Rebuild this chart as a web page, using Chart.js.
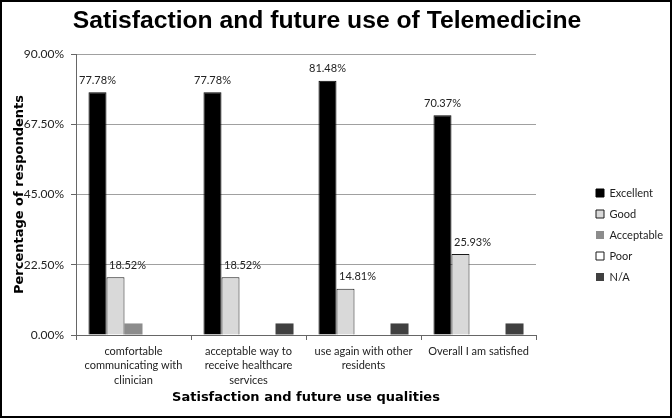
<!DOCTYPE html>
<html><head><meta charset="utf-8">
<script src="https://cdn.jsdelivr.net/npm/chart.js@4.4.1/dist/chart.umd.min.js"></script>
<style>
html,body{margin:0;padding:0;background:#fff;}
#wrap{width:672px;height:418px;box-sizing:border-box;border:2px solid #000;overflow:hidden;background:#fff;}
canvas{display:block;}
</style></head><body>
<div id="wrap"><canvas id="c" width="668" height="414"></canvas></div>
<script>
const chartTitle = 'Satisfaction and future use of Telemedicine';
const xAxisTitle = 'Satisfaction and future use qualities';
const yAxisTitle = 'Percentage of respondents';
const categories = [
  ['comfortable', 'communicating with', 'clinician'],
  ['acceptable way to', 'receive healthcare', 'services'],
  ['use again with other', 'residents'],
  ['Overall I am satisfied']
];
const seriesNames = ['Excellent', 'Good', 'Acceptable', 'Poor', 'N/A'];
const excellent = [77.78, 77.78, 81.48, 70.37];
const good = [18.52, 18.52, 14.81, 25.93];
const acceptable = [3.70, 0, 0, 0];
const poor = [0, 0, 0, 0];
const notApplicable = [0, 3.70, 3.70, 3.70];
const yMin = 0, yMax = 90, yStep = 22.5;
const labelledSeries = [0, 1];

const seriesValues = [excellent, good, acceptable, poor, notApplicable];
const fills = ['#000000', '#d9d9d9', '#8c8c8c', '#ffffff', '#404040'];
const strokes = ['#000000', '#1a1a1a', '#8c8c8c', '#1a1a1a', '#404040'];
const strokeWidths = [1, 1, 0, 1, 0];
const labelShiftX = [0, 12];

const valueLabels = {
  id: 'valueLabels',
  afterDatasetsDraw(chart) {
    const ctx = chart.ctx;
    ctx.save();
    ctx.font = '11px Lato';
    ctx.fillStyle = '#222';
    ctx.textAlign = 'center';
    ctx.textBaseline = 'middle';
    labelledSeries.forEach(di => {
      const meta = chart.getDatasetMeta(di);
      meta.data.forEach((bar, i) => {
        const v = chart.data.datasets[di].data[i];
        ctx.fillText(v.toFixed(2) + '%', bar.x + labelShiftX[di], bar.y - 12);
      });
    });
    ctx.restore();
  }
};

const nudge = {
  id: 'nudge',
  afterLayout(chart) {
    const t = chart.titleBlock;
    if (t) { t.right -= 18; }
    const lg = chart.legend;
    if (lg) {
      const dx = 584 - lg.left;
      lg.left += dx; lg.right += dx;
      lg.top = 175.5;
    }
  }
};

new Chart(document.getElementById('c'), {
  type: 'bar',
  data: {
    labels: categories,
    datasets: seriesNames.map((name, i) => ({
      label: name,
      data: seriesValues[i],
      backgroundColor: fills[i],
      borderColor: strokes[i],
      borderWidth: strokeWidths[i],
      categoryPercentage: 0.783,
      barPercentage: 1
    }))
  },
  options: {
    responsive: false,
    animation: false,
    devicePixelRatio: 1,
    layout: { padding: { left: 0, right: 0, top: 0, bottom: 0 } },
    plugins: {
      tooltip: { enabled: false },
      title: {
        display: true, text: chartTitle, color: '#000',
        font: { family: '"Liberation Sans", Arial, sans-serif', size: 24.7, weight: 'bold', lineHeight: 1.2 },
        padding: { top: 4, bottom: 18.4 }
      },
      legend: {
        position: 'right', align: 'start',
        labels: { boxWidth: 8, boxHeight: 8, padding: 10, color: '#222', font: { family: 'Lato', size: 11 } }
      }
    },
    scales: {
      x: {
        grid: { display: true, drawOnChartArea: false, drawTicks: true, tickLength: 5, tickColor: '#666' },
        border: { display: true, color: '#666' },
        ticks: { color: '#222', font: { family: 'Lato', size: 11, lineHeight: 1.33 }, padding: 4, maxRotation: 0, minRotation: 0, autoSkip: false },
        title: { display: true, text: xAxisTitle, color: '#000', font: { family: '"DejaVu Sans"', size: 13, weight: 'bold', lineHeight: 1.2 }, padding: { top: 2.4, bottom: 10.2 } },
        afterFit(s) { s.height = 81; }
      },
      y: {
        min: yMin, max: yMax,
        ticks: { stepSize: yStep, callback: v => Number(v).toFixed(2) + '%', color: '#222', font: { family: 'Lato', size: 12 }, padding: 7 },
        grid: { color: '#a0a0a0', tickColor: '#666', tickLength: 5 },
        border: { display: true, color: '#666' },
        title: { display: true, text: yAxisTitle, color: '#000', font: { family: '"DejaVu Sans"', size: 13, weight: 'bold', lineHeight: 1.2 }, padding: { top: 10, bottom: 0 } },
        afterFit(s) { s.width = 74; }
      },
      yPad: {
        type: 'linear', position: 'right', display: true,
        grid: { display: false, drawTicks: false }, border: { display: false }, ticks: { display: false },
        afterFit(s) { const lg = s.chart.legend; s.width = Math.max(0, 668 - 534 - (lg ? lg.width : 0)); }
      }
    }
  },
  plugins: [valueLabels, nudge]
});
</script>
</body></html>
